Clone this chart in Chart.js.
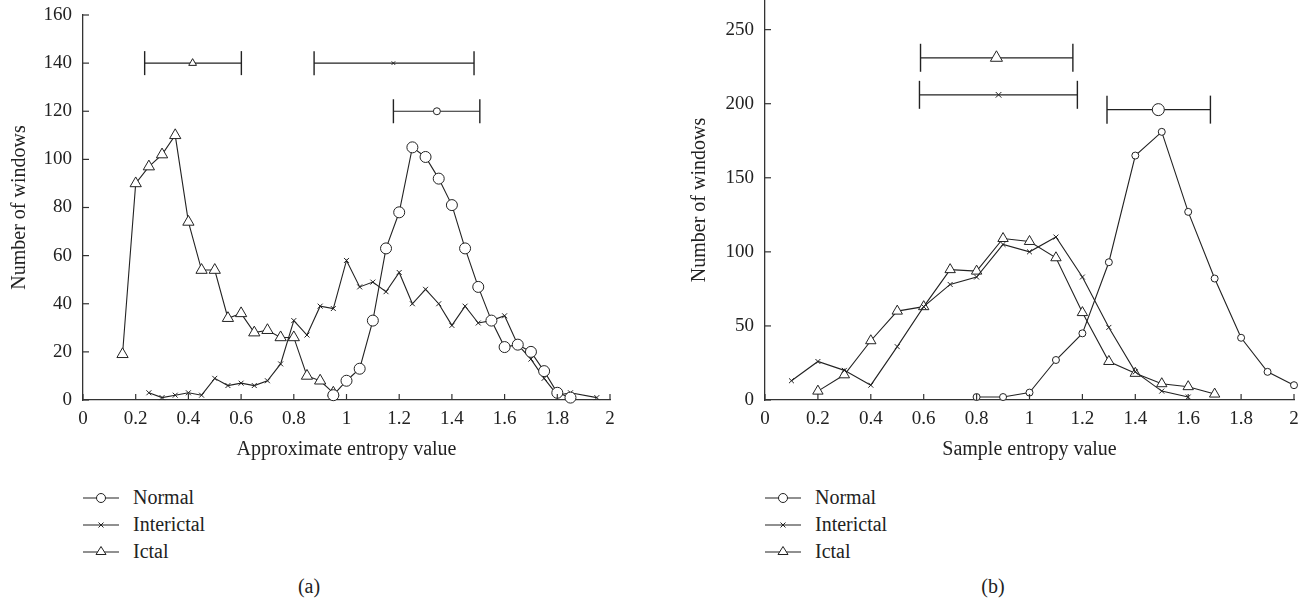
<!DOCTYPE html>
<html>
<head>
<meta charset="utf-8">
<script src="https://cdn.jsdelivr.net/npm/chart.js@4.4.0/dist/chart.umd.min.js"></script>
<style>
  body { margin: 0; background: #fff; width: 1310px; height: 604px; overflow: hidden; position: relative;
         font-family: "Liberation Serif", "DejaVu Serif", serif; color: #222; }
  canvas { position: absolute; top: 0; }
  #apenCanvas { left: 0; }
  #sampenCanvas { left: 680px; }
  .legend { position: absolute; top: 484px; font-size: 20px; }
  .legend div { height: 27px; display: flex; align-items: center; }
  .legend svg { margin-right: 14px; }
  .caption { position: absolute; top: 575px; font-size: 20px; width: 60px; text-align: center; }
</style>
</head>
<body>
<canvas id="apenCanvas" width="650" height="470"></canvas>
<canvas id="sampenCanvas" width="630" height="470"></canvas>
<div class="legend" id="apenLegend" style="left:83px"></div>
<div class="legend" id="sampenLegend" style="left:765px"></div>
<div class="caption" style="left:279px">(a)</div>
<div class="caption" style="left:963px">(b)</div>

<script>
// series names
const seriesNames = ["Normal", "Interictal", "Ictal"];

// (a) approximate entropy histograms
const apenNormalX = [0.95, 1.00, 1.05, 1.10, 1.15, 1.20, 1.25, 1.30, 1.35, 1.40, 1.45, 1.50, 1.55, 1.60, 1.65, 1.70, 1.75, 1.80, 1.85];
const apenNormalY = [2, 8, 13, 33, 63, 78, 105, 101, 92, 81, 63, 47, 33, 22, 23, 20, 12, 3, 1];
const apenInterX = [0.25, 0.30, 0.35, 0.40, 0.45, 0.50, 0.55, 0.60, 0.65, 0.70, 0.75, 0.80, 0.85, 0.90, 0.95, 1.00, 1.05,
                    1.10, 1.15, 1.20, 1.25, 1.30, 1.35, 1.40, 1.45, 1.50, 1.55, 1.60, 1.65, 1.70, 1.75, 1.80, 1.85, 1.95];
const apenInterY = [3, 1, 2, 3, 2, 9, 6, 7, 6, 8, 15, 33, 27, 39, 38, 58, 47,
                    49, 45, 53, 40, 46, 40, 31, 39, 32, 33, 35, 23, 17, 9, 2, 3, 1];
const apenIctalX = [0.15, 0.20, 0.25, 0.30, 0.35, 0.40, 0.45, 0.50, 0.55, 0.60, 0.65, 0.70, 0.75, 0.80, 0.85, 0.90, 0.95];
const apenIctalY = [19, 90, 97, 102, 110, 74, 54, 54, 34, 36, 28, 29, 26, 26, 10, 8, 3];
// mean +/- sd bars (Normal, Interictal, Ictal)
const apenBarLow = [1.178, 0.877, 0.234];
const apenBarMean = [1.343, 1.178, 0.416];
const apenBarHigh = [1.506, 1.484, 0.601];
const apenBarLevel = [120, 140, 140];

// (b) sample entropy histograms
const sampenNormalX = [0.8, 0.9, 1.0, 1.1, 1.2, 1.3, 1.4, 1.5, 1.6, 1.7, 1.8, 1.9, 2.0];
const sampenNormalY = [2, 2, 5, 27, 45, 93, 165, 181, 127, 82, 42, 19, 10];
const sampenInterX = [0.1, 0.2, 0.3, 0.4, 0.5, 0.6, 0.7, 0.8, 0.9, 1.0, 1.1, 1.2, 1.3, 1.4, 1.5, 1.6];
const sampenInterY = [13, 26, 20, 10, 36, 63, 78, 83, 105, 100, 110, 83, 49, 19, 6, 2];
const sampenIctalX = [0.2, 0.3, 0.4, 0.5, 0.6, 0.7, 0.8, 0.9, 1.0, 1.1, 1.2, 1.3, 1.4, 1.5, 1.6, 1.7];
const sampenIctalY = [6, 17, 40, 60, 63, 88, 87, 109, 107, 96, 59, 26, 18, 11, 9, 4];
const sampenBarLow = [1.293, 0.584, 0.588];
const sampenBarMean = [1.487, 0.883, 0.875];
const sampenBarHigh = [1.684, 1.181, 1.164];
const sampenBarLevel = [196, 206, 231];

const markerStyles = ["circle", "crossRot", "triangle"];
const INK = "#222";

Chart.defaults.font.family = '"Liberation Serif", "DejaVu Serif", serif';
Chart.defaults.color = INK;

function toPoints(xs, ys) {
  return xs.map((x, i) => ({ x, y: ys[i] }));
}

function histDataset(xs, ys, idx, radius) {
  return {
    label: seriesNames[idx],
    data: toPoints(xs, ys),
    borderColor: INK,
    borderWidth: 1.1,
    pointStyle: markerStyles[idx],
    pointRadius: radius,
    pointBorderWidth: 1,
    pointBorderColor: INK,
    pointBackgroundColor: "#fff",
    tension: 0,
    clip: false
  };
}

function barDataset(low, mean, high, level, idx, markRadius, capRadius) {
  return {
    label: seriesNames[idx] + " mean",
    data: [{ x: low[idx], y: level[idx] }, { x: mean[idx], y: level[idx] }, { x: high[idx], y: level[idx] }],
    borderColor: INK,
    borderWidth: 1.2,
    pointStyle: ["line", markerStyles[idx], "line"],
    pointRotation: [90, 0, 90],
    pointRadius: [capRadius, markRadius, capRadius],
    pointBorderWidth: [1.4, 1, 1.4],
    pointBorderColor: INK,
    pointBackgroundColor: "#fff",
    clip: false
  };
}

// tick marks pointing into the plot
const innerTicks = {
  id: "innerTicks",
  afterDraw(chart) {
    const { ctx, chartArea, scales } = chart;
    ctx.save();
    ctx.strokeStyle = "#333";
    ctx.lineWidth = 1.2;
    scales.x.ticks.forEach((t, i) => {
      const px = scales.x.getPixelForTick(i);
      ctx.beginPath();
      ctx.moveTo(px, chartArea.bottom);
      ctx.lineTo(px, chartArea.bottom - 6);
      ctx.stroke();
    });
    scales.y.ticks.forEach((t, i) => {
      const py = scales.y.getPixelForTick(i);
      ctx.beginPath();
      ctx.moveTo(chartArea.left, py);
      ctx.lineTo(chartArea.left + 6, py);
      ctx.stroke();
    });
    ctx.restore();
  }
};

function makeChart(canvasId, datasets, opts) {
  return new Chart(document.getElementById(canvasId), {
    type: "line",
    data: { datasets },
    plugins: [innerTicks],
    options: {
      responsive: false,
      animation: false,
      devicePixelRatio: 1,
      layout: { autoPadding: false, padding: { left: 0, right: opts.padRight, top: opts.padTop, bottom: 0 } },
      plugins: { legend: { display: false }, tooltip: { enabled: false } },
      scales: {
        x: {
          type: "linear",
          min: 0, max: 2,
          grid: { display: false, drawTicks: false },
          border: { display: true, color: "#333", width: 1.3 },
          ticks: {
            stepSize: 0.2,
            padding: 8,
            font: { size: 19 },
            color: INK,
            callback: v => String(Math.round(v * 10) / 10)
          },
          title: { display: true, text: opts.xTitle, font: { size: 20 }, color: INK, padding: { top: 0, bottom: 8 } },
          afterFit: s => { s.height = 70; s.paddingLeft = 0; s.paddingRight = 0; }
        },
        y: {
          type: "linear",
          min: 0, max: opts.yMax,
          grid: { display: false, drawTicks: false },
          border: { display: true, color: "#333", width: 1.3 },
          ticks: { stepSize: opts.yStep, includeBounds: false, padding: 11, font: { size: 19 }, color: INK },
          title: { display: true, text: "Number of windows", font: { size: 20 }, color: INK, padding: { top: 8, bottom: 0 } },
          afterFit: s => { s.width = opts.yWidth; s.paddingTop = 0; s.paddingBottom = 0; }
        }
      }
    }
  });
}

makeChart("apenCanvas", [
  histDataset(apenNormalX, apenNormalY, 0, 5.5),
  histDataset(apenInterX, apenInterY, 1, 3.5),
  histDataset(apenIctalX, apenIctalY, 2, 6.5),
  barDataset(apenBarLow, apenBarMean, apenBarHigh, apenBarLevel, 0, 3.5, 12),
  barDataset(apenBarLow, apenBarMean, apenBarHigh, apenBarLevel, 1, 2.5, 12),
  barDataset(apenBarLow, apenBarMean, apenBarHigh, apenBarLevel, 2, 4.5, 12)
], { xTitle: "Approximate entropy value", yMax: 160, yStep: 20, yWidth: 83, padTop: 15, padRight: 40 });

makeChart("sampenCanvas", [
  histDataset(sampenNormalX, sampenNormalY, 0, 3.5),
  histDataset(sampenInterX, sampenInterY, 1, 3.5),
  histDataset(sampenIctalX, sampenIctalY, 2, 6),
  barDataset(sampenBarLow, sampenBarMean, sampenBarHigh, sampenBarLevel, 0, 6, 14),
  barDataset(sampenBarLow, sampenBarMean, sampenBarHigh, sampenBarLevel, 1, 4, 14),
  barDataset(sampenBarLow, sampenBarMean, sampenBarHigh, sampenBarLevel, 2, 7, 14)
], { xTitle: "Sample entropy value", yMax: 270, yStep: 50, yWidth: 85, padTop: 0, padRight: 16 });

// legends below each panel
const legendSymbols = [
  '<circle cx="18" cy="8" r="4.5" fill="#fff" stroke="#222" stroke-width="1"/>',
  '<path d="M15.5 5.5 L20.5 10.5 M20.5 5.5 L15.5 10.5" stroke="#222" stroke-width="1"/>',
  '<path d="M18 2.5 L23 10.5 L13 10.5 Z" fill="#fff" stroke="#222" stroke-width="1"/>'
];
["apenLegend", "sampenLegend"].forEach(id => {
  const box = document.getElementById(id);
  seriesNames.forEach((name, i) => {
    const row = document.createElement("div");
    row.innerHTML = `<svg width="36" height="16"><line x1="0" y1="8" x2="36" y2="8" stroke="#222" stroke-width="1.1"/>${legendSymbols[i]}</svg><span>${name}</span>`;
    box.appendChild(row);
  });
});
</script>
</body>
</html>
